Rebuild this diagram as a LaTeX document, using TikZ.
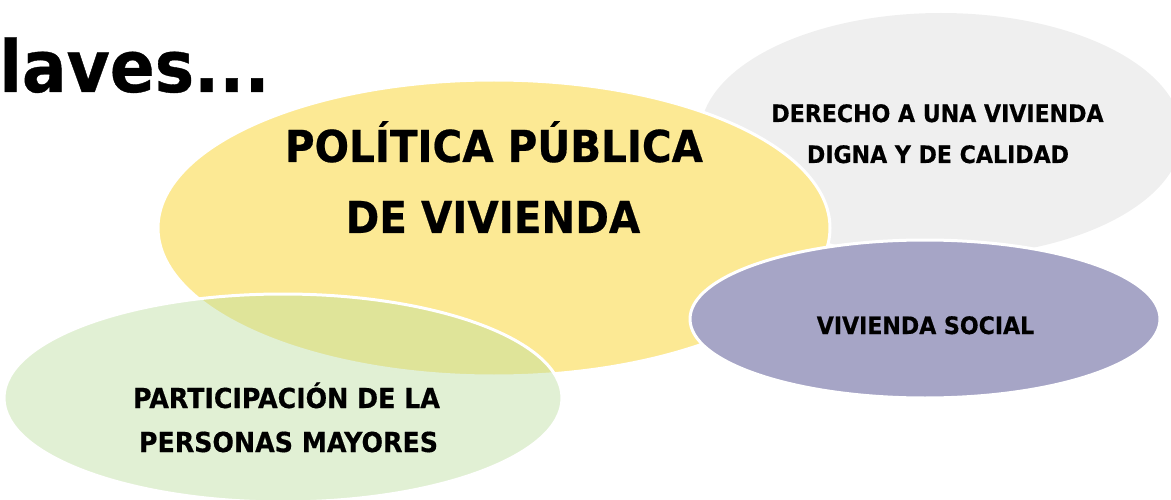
\documentclass[tikz,border=0pt]{standalone}
\usepackage{fontspec}
\setmainfont{DejaVu Sans}[FakeStretch=0.92, BoldFeatures={FakeBold=0.5}]
\usetikzlibrary{shapes.geometric}
\definecolor{ovyellow}{RGB}{252,233,148}
\definecolor{ovgray}{RGB}{239,239,239}
\definecolor{ovpurple}{RGB}{166,165,198}
\definecolor{ovgreen}{RGB}{189,222,160}
\tikzset{
  blob/.style={ellipse, inner sep=0pt, outer sep=0pt},
  wborder/.style={draw=white, line width=3pt},
  bigtxt/.style={font=\bfseries\fontsize{44}{50}\selectfont, anchor=base, inner sep=0pt},
  smalltxt/.style={font=\bfseries\fontsize{24}{28}\selectfont, anchor=base, inner sep=0pt},
  greentxt/.style={font=\bfseries\fontsize{27.5}{32}\selectfont, anchor=base, inner sep=0pt},
  titletxt/.style={font=\bfseries\fontsize{72}{80}\selectfont, anchor=base west, inner sep=0pt}
}
\begin{document}
\begin{tikzpicture}[x=1pt,y=-1pt]
\useasboundingbox (0,0) rectangle (1171,500);
% gray ellipse
\node[blob, fill=ovgray, minimum width=482pt, minimum height=244pt] (derecho) at (941,135) {};
% yellow ellipse
\node[blob, fill=ovyellow, wborder, minimum width=672pt, minimum height=296pt] (politica) at (494,228) {};
% purple ellipse
\node[blob, fill=ovpurple, wborder, minimum width=470pt, minimum height=158pt] (social) at (925,319) {};
% green ellipse
\node[blob, fill=ovgreen, fill opacity=0.45, wborder, minimum width=558pt, minimum height=208pt] (participa) at (283,398) {};
% texts
\node[titletxt] (titulo) at (-1,92) {laves...};
\node[bigtxt] (pol1) at (494,162) {POLÍTICA PÚBLICA};
\node[bigtxt] (pol2) at (493,233) {DE VIVIENDA};
\node[smalltxt] (der1) at (937.5,122) {DERECHO A UNA VIVIENDA};
\node[smalltxt] (der2) at (938,163) {DIGNA Y DE CALIDAD};
\node[smalltxt] (soc1) at (925.5,334) {VIVIENDA SOCIAL};
\node[greentxt] (par1) at (286.5,408) {PARTICIPACIÓN DE LA};
\node[greentxt] (par2) at (288.5,452) {PERSONAS MAYORES};
\end{tikzpicture}
\end{document}
